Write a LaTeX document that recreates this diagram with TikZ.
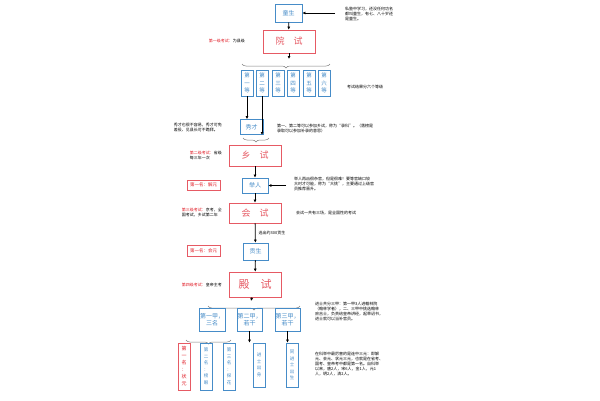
\documentclass[tikz,border=0pt]{standalone}
\usepackage{fontspec}
\setmainfont{Noto Sans CJK SC}
\usetikzlibrary{decorations.pathreplacing,arrows.meta}
\definecolor{bl}{RGB}{70,140,200}
\definecolor{rd}{RGB}{230,90,100}
\definecolor{rt}{RGB}{225,30,40}
\tikzset{
 bbox/.style={draw=bl,text=bl,font=\fontsize{6}{7}\selectfont,inner sep=0pt,line width=0.7pt},
 rbox/.style={draw=rd,text=rd,font=\fontsize{9}{10}\selectfont,inner sep=0pt,line width=0.7pt,minimum width=52pt},
 vbox/.style={bbox,minimum width=12pt,align=center,font=\fontsize{5.5}{7.5}\selectfont},
 note/.style={font=\fontsize{4}{5}\selectfont,align=left,anchor=west,inner sep=0pt},
 arr/.style={-{Latex[length=3pt,width=3pt]},line width=0.8pt},
 br/.style={decorate,decoration={brace,amplitude=4pt},draw=gray,line width=0.5pt}
}
\begin{document}
\begin{tikzpicture}[x=1pt,y=-1pt]
\useasboundingbox[fill=white] (0,0) rectangle (600,400);
\node[bbox,minimum width=27pt,minimum height=18pt] (tong) at (288.5,13) {童生};
\node[note] (tongn) at (345,14) {私塾中学习，还没任何功名\\都叫童生，有七、八十岁还\\是童生。};
\coordinate (tonga) at (335,13);
\draw[arr] (tonga) -- (tong);
\node[rbox,minimum height=23pt] (yuan) at (289,41.5) {院\quad 试};
\node[note,anchor=east] (l1) at (245,41) {\textcolor{rt}{第一级考试：}为县级};
\draw[arr] (tong) -- (yuan);
\foreach \i/\t/\x in {1/一/247,2/二/262,3/三/278,4/四/293,5/五/309,6/六/324}{
 \node[vbox,minimum height=26pt] (d\i) at (\x,83) {第\\\t\\等};
}
\draw[br] (330,64) -- node[coordinate] (btip) {} (242,64);
\draw[arr] (yuan) -- (289,59);
\node[note] at (347,87) {考试结果分六个等级};
\node[bbox,minimum width=23pt,minimum height=15pt] (xiu) at (251.5,127) {秀才};
\draw[arr] (d1) -- (xiu.north -| d1);
\coordinate (d2b) at (d2.south);
\draw[arr] (d2.south) -- (262,135);
\draw[br] (269,138) -- (243,138);
\node[note,anchor=east] at (222,127) {秀才也很不容易，秀才可免\\差役、见县长可不跪拜。};
\node[note] at (277,128) {第一、第二等可以参加乡试，称为“录科”。（落榜是\\录取可以参加补录的意思）};
\node[rbox,minimum height=21pt] (xiang) at (255,155.5) {乡\quad 试};
\node[note,anchor=east] at (222,155) {\textcolor{rt}{第二级考试：}省级\\每三年一次};
\node[bbox,minimum width=26pt,minimum height=15pt] (ju) at (255,185.5) {举人};
\draw[arr] (xiang) -- (ju);
\coordinate (jua) at (286,185.5);
\draw[arr] (jua) -- (ju);
\node[note] at (294,184) {举人再凶很杂官，但是很难！要等官缺口较\\大时才可能，称为“大挑”，主要通过上级官\\员推荐晋升。};
\node[draw=rd,text=rt,font=\fontsize{4.5}{5}\selectfont,minimum width=33pt,minimum height=10pt,inner sep=0pt] (jy) at (203.5,185) {第一名：解元};
\node[rbox,minimum height=20pt] (hui) at (255,213) {会\quad 试};
\draw[arr] (ju) -- (hui);
\node[note] at (296,213) {会试一共有三场，是全国性的考试};
\node[note,anchor=east] at (222,212.5) {\textcolor{rt}{第三级考试：}京考，全\\国考试，乡试第二年};
\node[bbox,minimum width=25pt,minimum height=17pt] (gong) at (255.5,251.5) {贡生};
\draw[arr] (hui) -- node[note,right=3pt,anchor=west] {选出约300贡生} (gong);
\node[draw=rd,text=rt,font=\fontsize{4.5}{5}\selectfont,minimum width=33pt,minimum height=11pt,inner sep=0pt] (hy) at (203.5,250.5) {第一名：会元};
\node[rbox,minimum height=25pt,font=\fontsize{11}{12}\selectfont] (dian) at (255,284.5) {殿\quad 试};
\draw[arr] (gong) -- (dian);
\node[note,anchor=east] at (222,285) {\textcolor{rt}{第四级考试：}皇帝主考};
\draw[br] (300,306) -- node[coordinate] (dtip) {} (208,306);
\draw[arr] (dian) -- (251,301);
\node[bbox,minimum width=26pt,minimum height=23pt,align=center] (j1) at (212,319.5) {第一甲，\\三名};
\node[bbox,minimum width=25pt,minimum height=23pt,align=center] (j2) at (249.5,319.5) {第二甲，\\若干};
\node[bbox,minimum width=25pt,minimum height=23pt,align=center] (j3) at (287.5,319.5) {第三甲，\\若干};
\draw[br] (231,340) -- (186,340);
\node[vbox,draw=rd,text=rt,minimum height=47pt,font=\fontsize{5}{7}\selectfont] (zy) at (184,366.5) {第\\一\\名\\：\\状\\元};
\node[vbox,minimum height=47pt,font=\fontsize{4.5}{6.5}\selectfont] (by) at (206,366.5) {第\\二\\名\\：\\榜\\眼};
\node[vbox,minimum height=47pt,font=\fontsize{4.5}{6.5}\selectfont] (th) at (229,366.5) {第\\三\\名\\：\\探\\花};
\node[vbox,minimum height=44pt,font=\fontsize{4.5}{6.5}\selectfont] (js) at (259,365) {进\\士\\出\\身};
\node[vbox,minimum height=44pt,font=\fontsize{4.5}{6.5}\selectfont] (tjs) at (292,365) {同\\进\\士\\出\\生};
\draw[arr] (j2) -- (js.north -| j2);
\draw[arr] (j3) -- (tjs.north -| j3);
\node[note] at (315,311) {进士共分三甲：第一甲3人进翰林院\\（翰林学者），二、三甲中挑选翰林\\庶吉士，负责给皇帝讲经，起草诏书，\\进士就可以当补官员。};
\node[note] at (315,364) {在科举中最厉害的是连中三元：即解\\元、会元、状元三元，也就是在省考、\\国考、皇帝考中都是第一名。自科举\\以来，唐2人，宋6人，金1人，元1\\人，明2人，清2人。};
\end{tikzpicture}
\end{document}
